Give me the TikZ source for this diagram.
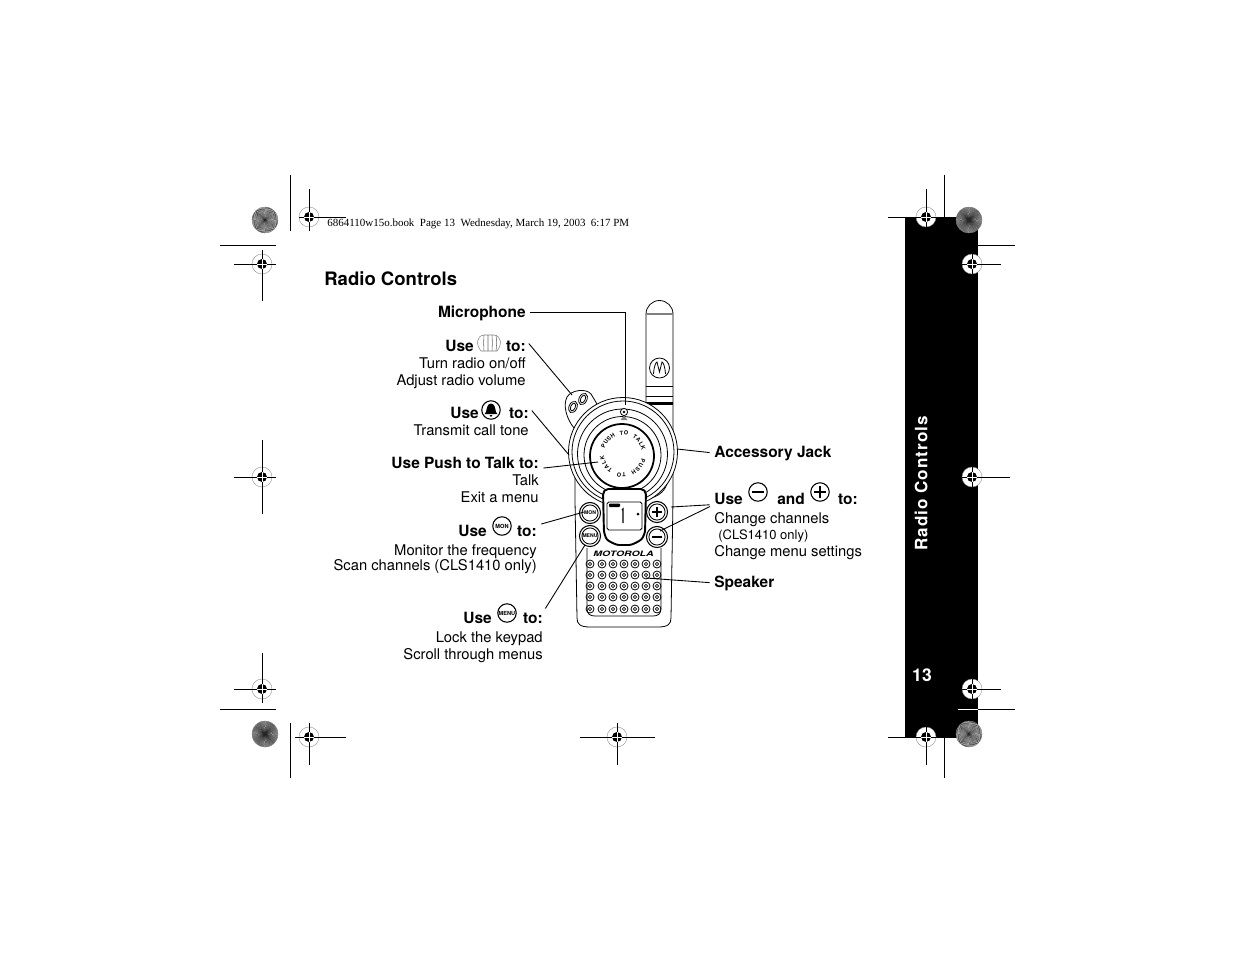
\documentclass[tikz,border=0pt]{standalone}
\usepackage{fontspec}
\setmainfont{TeX Gyre Heros}
\newfontfamily\headfont{Liberation Serif}
\newfontfamily\sidefont[LetterSpace=6]{TeX Gyre Heros}
\usepackage{tikz}

% registration mark: x, y, then ends of the two hairs
\newcommand{\regmark}[6]{
  \fill[white] (#1,#2) circle[radius=10];
  \draw[gray,very thin] (#1,#2) circle[radius=10];
  \fill (#1,#2) circle[radius=5];
  \draw[crop] (#3,#2) -- (#4,#2);
  \draw[crop] (#1,#5) -- (#1,#6);
  \draw[white,ultra thin] (#1-5,#2) -- (#1+5,#2) (#1,#2-5) -- (#1,#2+5);
}
% spoked disc: x, y, angle step
\newcommand{\regsun}[3]{
  \fill[white] (#1,#2) circle[radius=13];
  \foreach \a in {0,#3,...,359}
    \fill[black!85] (#1,#2) -- +(\a:13) -- +(\a+#3/2:13) -- cycle;
  \draw[gray,very thin] (#1,#2) circle[radius=13];
}
\newcommand{\bigfont}{\fontsize{10.55}{12}\selectfont\bfseries}

\tikzset{
  crop/.style={line width=0.55pt},
  leader/.style={line width=0.5pt,shorten <=2.5pt},
  radio/.style={line width=0.45pt},
  txt/.style={inner sep=0pt,font=\fontsize{8.4}{10}\selectfont},
  bld/.style={inner sep=0pt,font=\fontsize{8.8}{10}\selectfont\bfseries},
  btn/.style={draw,line width=0.6pt,fill=white,circle,minimum size=12pt,inner sep=0pt},
  btnin/.style={circle,draw,line width=0.5pt,minimum size=9.2pt,inner sep=0pt,font=\fontsize{2.9}{3}\selectfont\bfseries},
  icon/.style={circle,draw,line width=0.6pt,minimum size=10.5pt,inner sep=0pt,font=\fontsize{3.2}{3}\selectfont\bfseries}
}

\begin{document}
\begin{tikzpicture}[x=0.02cm,y=-0.02cm]
\useasboundingbox (0,0) rectangle (1235,954);

% side bar
\fill (905,217) rectangle (978,738);
\node[inner sep=0pt,rotate=90,text=white,font=\fontsize{9.7}{11}\selectfont\sidefont\bfseries] (sideTitle) at (921,483.5) {Radio Controls};
\node[inner sep=0pt,anchor=base,text=white,font=\fontsize{10}{12}\selectfont\bfseries] (pageNo) at (922,681) {13};

% crop marks
\draw[crop] (290,175) -- (290,231);
\draw[crop] (290,723) -- (290,778);
\draw[crop] (220,245) -- (276,245);
\draw[crop] (220,709) -- (276,709);
\draw[crop] (944,175) -- (944,217);
\draw[crop] (944,738) -- (944,778);
\draw[crop] (978,245) -- (1015,245);
\draw[crop] (978,709) -- (1015,709);
\draw[crop,white] (958,709) -- (978,709);
\regsun{265}{220}{5}
\regsun{265}{734}{2}
\regsun{969}{220}{2}
\regsun{969}{734}{5}
\regmark{309}{217}{299}{346}{189}{231}
\regmark{262}{264}{234}{276}{250}{301}
\regmark{262}{477}{234}{276}{440}{514}
\regmark{262}{689}{234}{276}{653}{703}
\regmark{309}{737}{295}{346}{723}{765}
\regmark{617}{737}{580}{655}{723}{765}
\regmark{926}{217}{888}{936}{189}{231}
\regmark{926}{737}{888}{936}{723}{765}
\regmark{972}{264}{962}{1001}{254}{274}
\regmark{972}{477}{962}{1010}{467}{487}
\regmark{972}{689}{962}{1001}{679}{699}

\node[inner sep=0pt,anchor=base west,font=\fontsize{6.25}{7}\selectfont\headfont] (bookLine) at (327,226) {6864110w15o.book\ \ Page 13\ \ Wednesday, March 19, 2003\ \ 6:17 PM};
\node[inner sep=0pt,anchor=base west,font=\bigfont] (pageTitle) at (324,285) {Radio Controls};

% antenna
\draw[radio,fill=white] (646,430) -- (646,314) arc[start angle=180,end angle=360,radius=13.5] -- (673,440);
\draw[gray,line width=0.7pt] (646,314) -- (673,314);
\draw[radio] (659.5,368) circle[radius=10];
\draw[radio] (653.5,374) .. controls (654,366) and (656,362) .. (657,362) -- (659.5,372) -- (662,362) .. controls (663,362) and (665,366) .. (665.5,374);
\fill (646,385.5) rectangle (673,387);
\fill (646,395.5) rectangle (673,396.5);
\fill (646,402) rectangle (673,404.5);

% wheel
\draw[radio,fill=white] (574,428) .. controls (566,418) and (563,405) .. (567,397)
  .. controls (571,390) and (586,388) .. (591,394) -- (597,404) -- cycle;
\draw[radio,rotate around={-25:(573,407)}] (573,407) ellipse[x radius=4,y radius=6];
\draw[radio,rotate around={-25:(573,407)}] (573,407) ellipse[x radius=2.3,y radius=4];
\draw[radio,rotate around={-25:(583,399)}] (583,399) ellipse[x radius=4,y radius=6];
\draw[radio,rotate around={-25:(583,399)}] (583,399) ellipse[x radius=2.3,y radius=4];

% body
\draw[radio,fill=white] (575,470) -- (575,500) -- (577,618) .. controls (577,624) and (580,627) .. (590,627)
  -- (658,627) .. controls (668,627) and (671,624) .. (671,618) -- (673,500) -- (673,470) -- cycle;
\draw[radio] (587,548) -- (587,608) .. controls (587,614) and (590,616) .. (595,616) -- (653,616) .. controls (658,616) and (661,614) .. (661,608) -- (661,548);
\draw[radio] (580,480) .. controls (582,490) and (588,497) .. (603,499);
\draw[radio] (586,480) .. controls (589,488) and (594,492) .. (603,493);
\draw[radio] (668,480) .. controls (666,490) and (660,497) .. (646,499);
\draw[radio] (662,480) .. controls (659,488) and (654,492) .. (646,493);

% dial
\draw[radio,fill=white] (623,452) circle[radius=54.5];
\draw[radio] (623,452) circle[radius=51];
\draw[radio] (622.5,454) circle[radius=45];
\draw[radio] (622.5,455) circle[radius=38.5];
\draw[line width=1pt,fill=white] (622,456) circle[radius=32];
\draw[radio,fill=white] (624,412) circle[radius=3.6];
\fill (624,412) circle[radius=1.3];
\fill[gray] (620.5,420) -- (624,415.5) -- (627.5,420) -- cycle;
\foreach \ch [count=\i] in {P,U,S,H,{},T,O,{},T,A,L,K}{
  \node[inner sep=0pt,rotate={68-(\i-1)*12.8},font=\fontsize{3.2}{3}\selectfont\bfseries] (topCh\i) at ({623+21*cos(158-(\i-1)*12.8)},{454-21*sin(158-(\i-1)*12.8)}) {\ch};
  \node[inner sep=0pt,rotate={-108-(\i-1)*13.8},font=\fontsize{3.2}{3}\selectfont\bfseries] (botCh\i) at ({623+21*cos(-18-(\i-1)*13.8)},{454-21*sin(-18-(\i-1)*13.8)}) {\ch};
}

% display
\draw[line width=1.1pt,fill=white,rounded corners=3pt] (603,489) -- (646,489) -- (645,535) .. controls (640,541) and (632,545) .. (624,545) .. controls (616,545) and (608,541) .. (604,535) -- cycle;
\draw[radio,rounded corners=1pt] (607,502) rectangle (642,530);
\fill[rounded corners=0.5pt] (609,503.5) rectangle (620,507);
\draw[line width=0.8pt] (622,510) -- (623,509) -- (623,523);
\fill (638,514) circle[radius=1.5];

% buttons
\node[btn] (monBtn) at (590,513) {};
\node[btnin] (monIn) at (590,513) {MON};
\node[btn] (menuBtn) at (590,536) {};
\node[btnin] (menuIn) at (590,536) {MENU};
\node[btn] (plusBtn) at (657,512) {};
\node[btnin] (plusIn) at (657,512) {};
\draw[line width=0.7pt] (652,512) -- (662,512) (657,507) -- (657,517);
\node[btn] (minusBtn) at (657,537) {};
\node[btnin] (minusIn) at (657,537) {};
\draw[line width=0.7pt] (652,537) -- (662,537);

\node[inner sep=0pt,font=\fontsize{4.2}{5}\selectfont\bfseries\itshape] (logoText) at (623.5,554) {\scalebox{1.42}[1]{MOTOROLA}};

% speaker holes
\foreach \px in {590,602,613,624,635,646,657}
  \foreach \py in {564,575,586,597,609}{
    \draw[radio] (\px,\py) circle[radius=4];
    \draw[line width=0.3pt] (\px,\py) circle[radius=1.8];
    \fill (\px,\py) circle[radius=0.7];
  }

% left labels
\node[bld,anchor=base east] (labMic) at (526,317) {Microphone};

\node[bld,anchor=base west] (useWheel) at (445,351) {Use};
\node[bld,anchor=base east] (useWheelTo) at (526,351) {to:};
\node[txt,anchor=base east] (labTurn) at (526,368) {Turn radio on/off};
\node[txt,anchor=base east] (labAdjust) at (526,385) {Adjust radio volume};
\draw[line width=0.3pt,gray] (481,351) .. controls (476,345) and (476,336) .. (484,335) -- (494,335) .. controls (502,336) and (502,345) .. (497,351) -- cycle;
\foreach \dx in {6,10,14,18}
  \draw[line width=0.3pt,gray!80!black] (478+\dx,351) .. controls (477+\dx*1.1,345) and (477+\dx*1.1,340) .. (478+\dx,335);

\node[bld,anchor=base west] (useBell) at (450,418) {Use};
\node[bld,anchor=base east] (useBellTo) at (529,418) {to:};
\node[txt,anchor=base east] (labCall) at (529,435) {Transmit call tone};
\node[icon] (bellIcon) at (491,410) {};
\fill (491,403.5) .. controls (487,404) and (487,408) .. (486,412) -- (484.5,414) -- (497.5,414) -- (496,412) .. controls (495,408) and (495,404) .. (491,403.5);
\fill (489.5,415) -- (492.5,415) -- (491,417) -- cycle;

\node[bld,anchor=base east] (usePtt) at (539,468) {Use Push to Talk to:};
\node[txt,anchor=base east] (labTalk) at (539,485) {Talk};
\node[txt,anchor=base east] (labExit) at (539,502) {Exit a menu};

\node[bld,anchor=base west] (useMon) at (458,536) {Use};
\node[bld,anchor=base east] (useMonTo) at (537,536) {to:};
\node[txt,anchor=base east] (labMonitor) at (537,555) {Monitor the frequency};
\node[txt,anchor=base east] (labScan) at (537,570) {Scan channels (CLS1410 only)};
\node[icon] (monIcon) at (502,526) {MON};

\node[bld,anchor=base west] (useMenu) at (463,623) {Use};
\node[bld,anchor=base east] (useMenuTo) at (543,623) {to:};
\node[txt,anchor=base east] (labLock) at (543,642) {Lock the keypad};
\node[txt,anchor=base east] (labScroll) at (543,659) {Scroll through menus};
\node[icon] (menuIcon) at (507,613) {MENU};

% right labels
\node[bld,anchor=base west] (labJack) at (714,457) {Accessory Jack};
\node[bld,anchor=base west] (useVol) at (714,504) {Use};
\node[bld,anchor=base west] (useAnd) at (777,504) {and};
\node[bld,anchor=base east] (useVolTo) at (858,504) {to:};
\node[icon] (minusIcon) at (758,492) {};
\draw[line width=0.7pt] (752,492) -- (764,492);
\node[icon] (plusIcon) at (820,492) {};
\draw[line width=0.7pt] (814,492) -- (826,492) (820,486) -- (820,498);
\node[txt,anchor=base west] (labChange) at (714,523) {Change channels};
\node[inner sep=0pt,anchor=base west,font=\fontsize{7.4}{9}\selectfont] (labOnly) at (718,539) {(CLS1410 only)};
\node[txt,anchor=base west] (labSettings) at (714,556) {Change menu settings};
\node[bld,anchor=base west] (labSpeaker) at (714,587) {Speaker};

% leaders
\coordinate (micEnd) at (625,405);
\coordinate (wheelEnd) at (572,395);
\coordinate (bellEnd) at (569,455);
\coordinate (pttEnd) at (598,462);
\coordinate (monEnd) at (584,512);
\coordinate (menuEnd) at (585,545);
\coordinate (jackEnd) at (677,449);
\coordinate (plusEnd) at (671,507);
\coordinate (minusEnd) at (660,531);
\coordinate (speakEnd) at (646,578);
\draw[leader] (labMic.east) -| (micEnd);
\draw[leader] (useWheelTo.north east) -- (wheelEnd);
\draw[leader] (useBellTo.north east) -- (bellEnd);
\draw[leader] (usePtt.south east) -- (pttEnd);
\draw[leader] (useMonTo.north east) -- (monEnd);
\draw[leader] (useMenuTo.north east) -- (menuEnd);
\draw[leader] (labJack.west) -- (jackEnd);
\draw[leader] (useVol.south west) -- (plusEnd);
\draw[leader] (useVol.south west) -- (minusEnd);
\draw[leader] (labSpeaker.west) -- (speakEnd);
\end{tikzpicture}
\end{document}
